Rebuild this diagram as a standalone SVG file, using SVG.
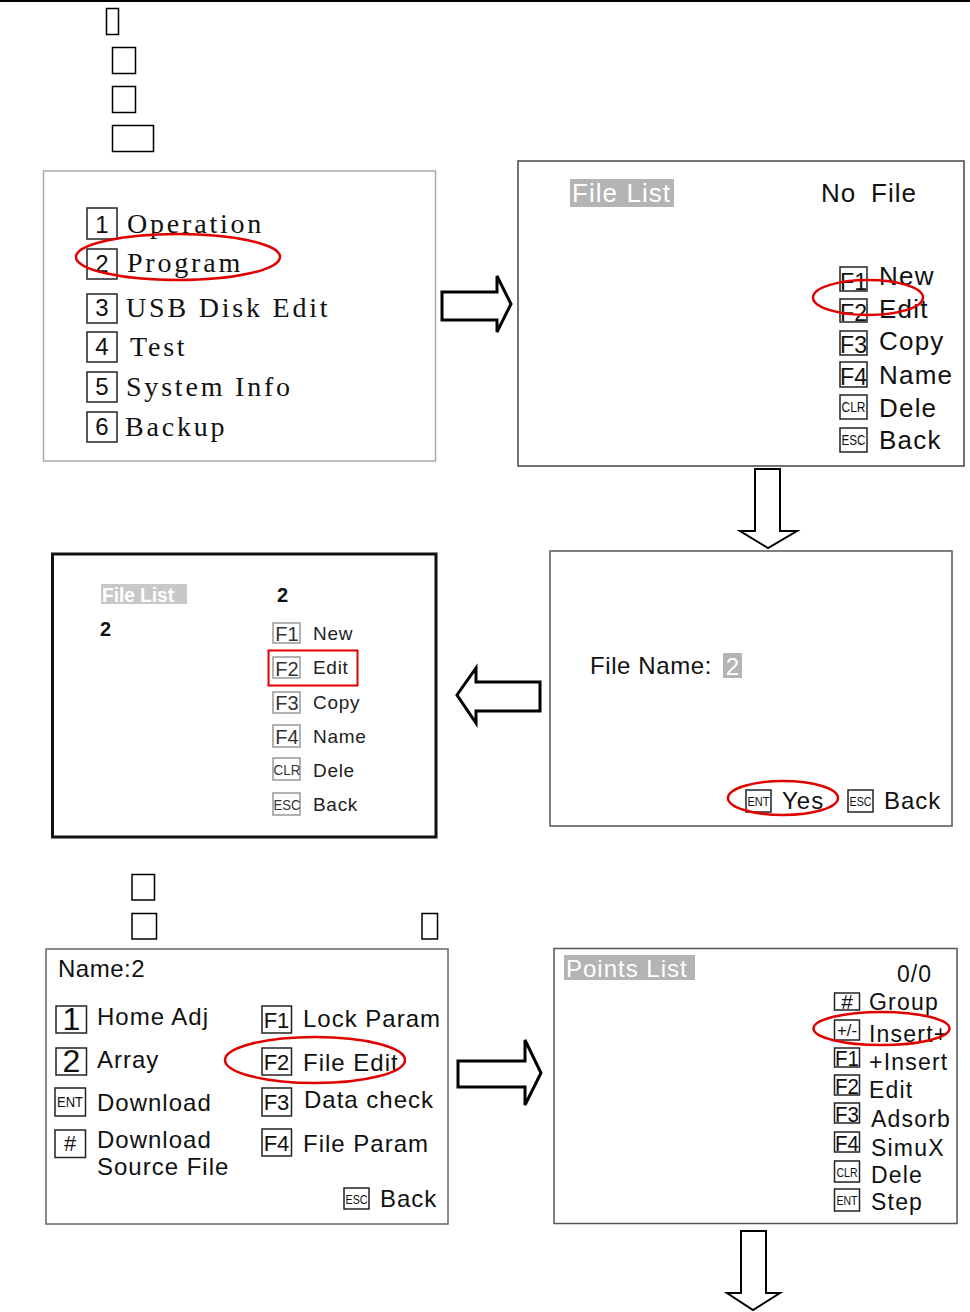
<svg xmlns="http://www.w3.org/2000/svg" width="970" height="1312" viewBox="0 0 970 1312">
<style>
.serif{font-family:"Liberation Serif","Times New Roman",serif;fill:#111}
.sans{font-family:"Liberation Sans",Arial,sans-serif;fill:#111}
.k{fill:none;stroke:#222;stroke-width:1.5}
.kl{fill:none;stroke:#999;stroke-width:1.5}
.red{fill:none;stroke:#e00000;stroke-width:2.5}
.arr{fill:#fff;stroke:#000;stroke-width:3;stroke-linejoin:miter}
.arr2{fill:#fff;stroke:#000;stroke-width:2;stroke-linejoin:miter}
.hl{fill:#b4b4b4}
.w{fill:#fff}
.blank{fill:none;stroke:#000;stroke-width:1.5}
</style>
<rect x="0" y="0" width="970" height="1312" fill="#fff"/>
<line x1="0" y1="1" x2="970" y2="1" stroke="#000" stroke-width="2"/>
<g id="blanks-top">
<rect class="blank" x="106.5" y="8.5" width="12" height="26"/>
<rect class="blank" x="112.5" y="47.5" width="23" height="26"/>
<rect class="blank" x="112.5" y="86.5" width="23" height="26"/>
<rect class="blank" x="112.5" y="125.5" width="41" height="26"/>
</g>
<g id="main-menu">
<rect x="43.5" y="171" width="392" height="290" fill="#fff" stroke="#aaa" stroke-width="1.5"/>
<g class="sans" font-size="24" text-anchor="middle">
<rect class="k" x="87" y="208" width="30" height="31"/><text x="102" y="233">1</text>
<rect class="k" x="87" y="249" width="30" height="30"/><text x="102" y="272">2</text>
<rect class="k" x="87" y="294" width="30" height="29"/><text x="102" y="316">3</text>
<rect class="k" x="87" y="332" width="30" height="30"/><text x="102" y="355">4</text>
<rect class="k" x="87" y="372" width="30" height="30"/><text x="102" y="395">5</text>
<rect class="k" x="87" y="412" width="30" height="30"/><text x="102" y="435">6</text>
</g>
<g class="serif" font-size="28" letter-spacing="2.8">
<text x="127" y="233">Operation</text>
<text x="127" y="272">Program</text>
<text x="126" y="317">USB Disk Edit</text>
<text x="130" y="356">Test</text>
<text x="126" y="396">System Info</text>
<text x="125" y="436">Backup</text>
</g>
<ellipse class="red" cx="178" cy="257" rx="102" ry="23"/>
</g>
<g id="file-list-empty">
<rect x="518" y="161" width="446" height="305" fill="#fff" stroke="#444" stroke-width="1.5"/>
<rect class="hl" x="570" y="179" width="104" height="28"/>
<text class="sans w" x="572" y="202" font-size="26" letter-spacing="1" textLength="99">File List</text>
<text class="sans" x="821" y="202" font-size="26" letter-spacing="1">No</text>
<text class="sans" x="871" y="202" font-size="26" letter-spacing="1">File</text>
<g class="sans" font-size="23" text-anchor="middle">
<rect class="k" x="840" y="267" width="27" height="24"/><text x="853.5" y="290" textLength="27" lengthAdjust="spacingAndGlyphs">F1</text>
<rect class="k" x="840" y="299" width="27" height="23"/><text x="853.5" y="321" textLength="27" lengthAdjust="spacingAndGlyphs">F2</text>
<rect class="k" x="840" y="331" width="27" height="24"/><text x="853.5" y="353" textLength="27" lengthAdjust="spacingAndGlyphs">F3</text>
<rect class="k" x="840" y="362" width="27" height="25"/><text x="853.5" y="385" textLength="27" lengthAdjust="spacingAndGlyphs">F4</text>
<rect class="k" x="840" y="395" width="27" height="24"/><text x="853.5" y="412" font-size="14" textLength="24" lengthAdjust="spacingAndGlyphs">CLR</text>
<rect class="k" x="840" y="428" width="27" height="24"/><text x="853.5" y="445" font-size="14" textLength="24" lengthAdjust="spacingAndGlyphs">ESC</text>
</g>
<g class="sans" font-size="26" letter-spacing="1.2">
<text x="879" y="285">New</text>
<text x="879" y="318">Edit</text>
<text x="879" y="350">Copy</text>
<text x="879" y="384">Name</text>
<text x="879" y="417">Dele</text>
<text x="879" y="449">Back</text>
</g>
<ellipse class="red" cx="868" cy="297.5" rx="55" ry="17.5"/>
</g>
<g id="file-name">
<rect x="550" y="551" width="402" height="275" fill="#fff" stroke="#555" stroke-width="1.5"/>
<text class="sans" x="590" y="674" font-size="24" letter-spacing="0.6">File Name:</text>
<rect class="hl" x="723" y="653" width="19" height="25"/>
<text class="sans w" x="732.5" y="675" font-size="24" text-anchor="middle">2</text>
<rect class="k" x="746" y="790" width="25" height="22"/>
<text class="sans" x="758.5" y="806" font-size="13" text-anchor="middle" textLength="22" lengthAdjust="spacingAndGlyphs">ENT</text>
<text class="sans" x="782" y="809" font-size="24" letter-spacing="1">Yes</text>
<rect class="k" x="848" y="790" width="25" height="22"/>
<text class="sans" x="860.5" y="806" font-size="13" text-anchor="middle" textLength="22" lengthAdjust="spacingAndGlyphs">ESC</text>
<text class="sans" x="884" y="809" font-size="24" letter-spacing="1">Back</text>
<ellipse class="red" cx="783" cy="798" rx="55" ry="17"/>
</g>
<g id="file-list-2">
<rect x="52.5" y="554" width="383.5" height="283" fill="#fff" stroke="#111" stroke-width="3"/>
<rect fill="#c8c8c8" x="101" y="584" width="86" height="20"/>
<text class="sans w" x="102" y="602" font-size="20" font-weight="bold" textLength="72" lengthAdjust="spacingAndGlyphs">File List</text>
<text class="sans" x="277" y="602" font-size="20" font-weight="bold">2</text>
<text class="sans" x="100" y="636" font-size="20" font-weight="bold">2</text>
<g class="sans" font-size="20" text-anchor="middle" style="fill:#333">
<rect class="kl" x="273" y="623" width="27" height="20"/><text x="287" y="641">F1</text>
<rect class="kl" x="273" y="657" width="27" height="21"/><text x="287" y="676">F2</text>
<rect class="kl" x="273" y="692" width="27" height="21"/><text x="287" y="710">F3</text>
<rect class="kl" x="273" y="725" width="27" height="22"/><text x="287" y="744">F4</text>
<rect class="kl" x="273" y="758" width="27" height="22"/><text x="287" y="775" font-size="14" textLength="27" lengthAdjust="spacingAndGlyphs">CLR</text>
<rect class="kl" x="273" y="793" width="27" height="22"/><text x="287" y="810" font-size="14" textLength="27" lengthAdjust="spacingAndGlyphs">ESC</text>
</g>
<g class="sans" font-size="19" letter-spacing="0.7" style="fill:#222">
<text x="313" y="640">New</text>
<text x="313" y="674">Edit</text>
<text x="313" y="709">Copy</text>
<text x="313" y="743">Name</text>
<text x="313" y="777">Dele</text>
<text x="313" y="811">Back</text>
</g>
<rect x="268.5" y="650.5" width="89" height="35" fill="none" stroke="#e00000" stroke-width="2"/>
</g>
<g id="blanks-mid">
<rect class="blank" x="132" y="874.5" width="22.5" height="25.5"/>
<rect class="blank" x="132" y="913.5" width="24.5" height="25.5"/>
<rect class="blank" x="422" y="913.5" width="15.5" height="25.5"/>
</g>
<g id="file-menu">
<rect x="46" y="949" width="402" height="275" fill="#fff" stroke="#666" stroke-width="1.5"/>
<text class="sans" x="58" y="977" font-size="24" letter-spacing="0.5">Name:2</text>
<g class="sans" text-anchor="middle">
<rect class="k" x="56" y="1006" width="30.5" height="27"/><text x="71.5" y="1030" font-size="32">1</text>
<rect class="k" x="56" y="1048" width="30.5" height="27"/><text x="71.5" y="1072" font-size="32">2</text>
<rect class="k" x="55" y="1088" width="30.5" height="28"/><text x="70" y="1107" font-size="14" textLength="26" lengthAdjust="spacingAndGlyphs">ENT</text>
<rect class="k" x="55" y="1130" width="30.5" height="27.5"/><text x="70" y="1151" font-size="22">#</text>
<rect class="k" x="262" y="1006" width="29.5" height="27"/><text x="276.5" y="1028" font-size="22">F1</text>
<rect class="k" x="262" y="1048" width="29.5" height="27"/><text x="276.5" y="1070" font-size="22">F2</text>
<rect class="k" x="262" y="1088" width="29.5" height="28"/><text x="276.5" y="1110" font-size="22">F3</text>
<rect class="k" x="262" y="1129" width="29.5" height="27"/><text x="276.5" y="1151" font-size="22">F4</text>
<rect class="k" x="344" y="1188" width="25" height="21"/><text x="356.5" y="1204" font-size="13" textLength="22" lengthAdjust="spacingAndGlyphs">ESC</text>
</g>
<g class="sans" font-size="24" letter-spacing="1">
<text x="97" y="1025">Home Adj</text>
<text x="97" y="1068">Array</text>
<text x="97" y="1111">Download</text>
<text x="97" y="1148">Download</text>
<text x="97" y="1175">Source File</text>
<text x="303" y="1027">Lock Param</text>
<text x="303" y="1071">File Edit</text>
<text x="304" y="1108">Data check</text>
<text x="303" y="1152">File Param</text>
<text x="380" y="1207">Back</text>
</g>
<ellipse class="red" cx="315" cy="1060" rx="90" ry="23"/>
</g>
<g id="points-list">
<rect x="554" y="948.5" width="403" height="275" fill="#fff" stroke="#555" stroke-width="1.5"/>
<rect class="hl" x="564" y="955" width="131" height="25"/>
<text class="sans w" x="566" y="977" font-size="24" letter-spacing="1">Points List</text>
<text class="sans" x="897" y="982" font-size="23" letter-spacing="1">0/0</text>
<g class="sans" text-anchor="middle">
<rect class="k" x="834.5" y="993" width="25" height="17"/><text x="847" y="1009" font-size="21">#</text>
<rect class="k" x="834.5" y="1020" width="25" height="20"/><text x="847" y="1036" font-size="17" textLength="20" lengthAdjust="spacingAndGlyphs">+/-</text>
<rect class="k" x="834.5" y="1048" width="25" height="19"/><text x="847" y="1066" font-size="22" textLength="24" lengthAdjust="spacingAndGlyphs">F1</text>
<rect class="k" x="834.5" y="1075" width="25" height="20"/><text x="847" y="1094" font-size="22" textLength="24" lengthAdjust="spacingAndGlyphs">F2</text>
<rect class="k" x="834.5" y="1103" width="25" height="20"/><text x="847" y="1122" font-size="22" textLength="24" lengthAdjust="spacingAndGlyphs">F3</text>
<rect class="k" x="834.5" y="1132" width="25" height="20"/><text x="847" y="1151" font-size="22" textLength="24" lengthAdjust="spacingAndGlyphs">F4</text>
<rect class="k" x="834.5" y="1161" width="25" height="21"/><text x="847" y="1177" font-size="13" textLength="21" lengthAdjust="spacingAndGlyphs">CLR</text>
<rect class="k" x="834.5" y="1189" width="25" height="22"/><text x="847" y="1205" font-size="13" textLength="21" lengthAdjust="spacingAndGlyphs">ENT</text>
</g>
<g class="sans" font-size="23" letter-spacing="1.2">
<text x="869" y="1010">Group</text>
<text x="869" y="1042">Insert+</text>
<text x="869" y="1070">+Insert</text>
<text x="869" y="1098">Edit</text>
<text x="871" y="1127">Adsorb</text>
<text x="871" y="1156">SimuX</text>
<text x="871" y="1183">Dele</text>
<text x="871" y="1210">Step</text>
</g>
<ellipse class="red" cx="881.5" cy="1028.5" rx="68" ry="16.5"/>
</g>
<g id="connectors">
<polygon class="arr" points="442,292 497,292 497,276 511,304 497,332 497,320 442,320"/>
<polygon class="arr2" points="755,469 780,469 780,531 797,531 768,548 740,531 755,531"/>
<polygon class="arr" points="540,682 476,682 476,668 457,695 476,723 476,711 540,711"/>
<polygon class="arr" points="458,1061 525,1061 525,1040 541,1073 525,1105 525,1087 458,1087"/>
<polygon class="arr2" points="741,1231 766,1231 766,1293 780,1293 753,1310 727,1293 741,1293"/>
</g>
</svg>
